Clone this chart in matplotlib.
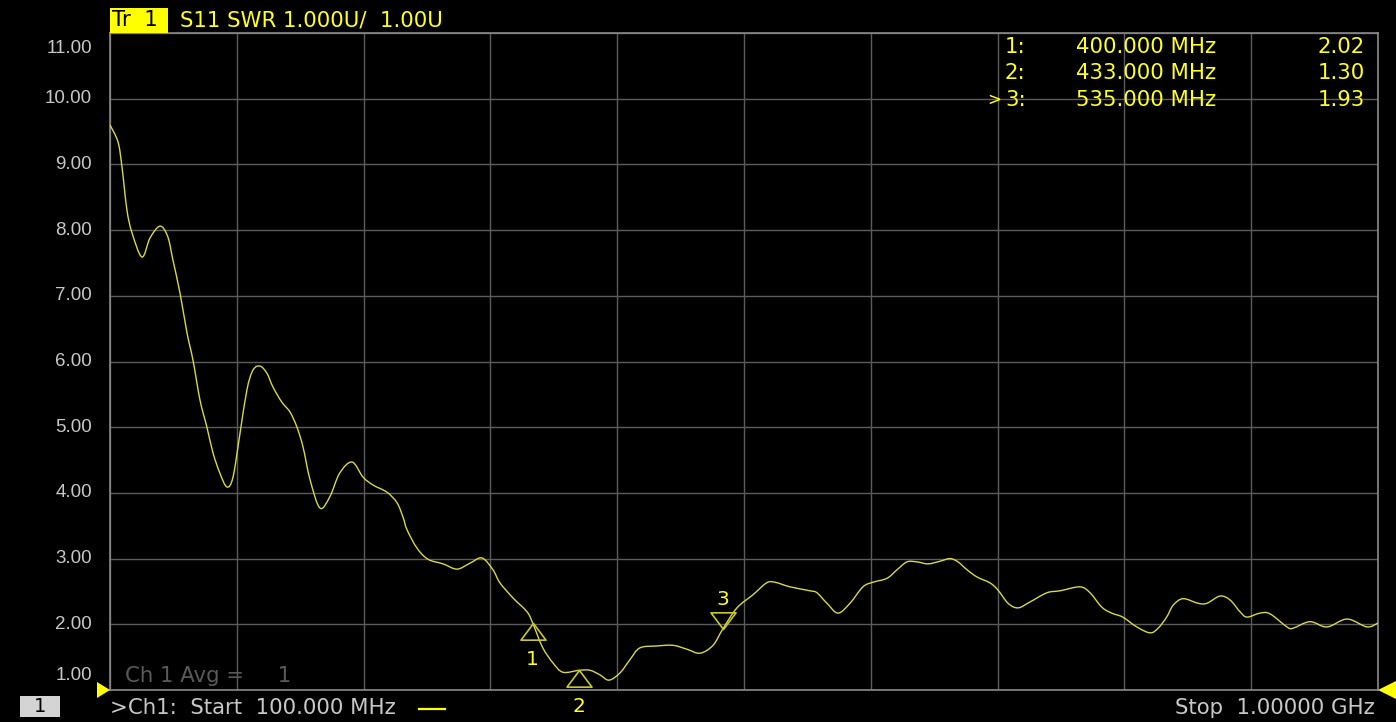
import matplotlib
matplotlib.use("Agg")
import matplotlib.pyplot as plt
from matplotlib.patches import Rectangle, Polygon, PathPatch
from matplotlib.path import Path
import matplotlib.transforms as mtransforms
import numpy as np

# ---------------- data ----------------
freq_mhz = [100, 105.7, 108.5, 112, 115.6, 122.7, 128.4, 135.5, 141, 144.7, 149.7,
            154.7, 158.9, 163.9, 168.8, 173.1, 178, 183, 187.3, 192.3, 197.2, 201.5,
            206.5, 211.4, 215.7, 222, 227.8, 232.7, 237, 242, 249, 256, 263, 271.8,
            279.6, 286.7, 296.6, 303.7, 308, 310.8, 317.9, 325.7, 336.4, 346.3, 355.5,
            364, 371.8, 376.8, 386.1, 396, 400, 407, 414.5, 421.5, 433, 440.7, 447.8,
            454.2, 462, 469, 476, 488, 499.6, 509.6, 518.8, 528, 535, 545, 556.4, 566,
            572, 582.7, 596.9, 601.8, 608.9, 616.7, 625.2, 634.4, 641.5, 651.5, 658.6,
            665.7, 672.8, 680.6, 689.2, 696.2, 701.9, 708.3, 715.4, 724.6, 730.3, 737.4,
            744.5, 753, 765, 774.3, 788.5, 795.6, 804, 811, 818.8, 828.8, 838.2, 843.9,
            850, 854.6, 861.6, 872.3, 878.6, 887.9, 895, 902.1, 907, 916.2, 923.3,
            935.4, 939.6, 951.7, 963.8, 978, 992.2, 1000]
swr = [9.60, 9.34, 8.96, 8.31, 7.96, 7.59, 7.88, 8.06, 7.90, 7.54, 7.04,
       6.43, 6.02, 5.41, 5.00, 4.61, 4.30, 4.09, 4.24, 4.91, 5.57, 5.87,
       5.93, 5.82, 5.61, 5.38, 5.23, 5.00, 4.70, 4.20, 3.77, 3.94, 4.30, 4.47,
       4.24, 4.12, 4.01, 3.85, 3.63, 3.44, 3.16, 2.99, 2.92, 2.84, 2.93,
       3.01, 2.83, 2.63, 2.40, 2.19, 2.02, 1.65, 1.41, 1.27, 1.30, 1.30, 1.23,
       1.15, 1.26, 1.46, 1.64, 1.67, 1.68, 1.62, 1.56, 1.68, 1.93, 2.25, 2.45, 2.63,
       2.64, 2.57, 2.51, 2.48, 2.32, 2.17, 2.32, 2.57, 2.64, 2.70, 2.83,
       2.95, 2.95, 2.92, 2.96, 3.00, 2.95, 2.83, 2.72, 2.63, 2.52, 2.32,
       2.25, 2.34, 2.48, 2.51, 2.57, 2.48, 2.26, 2.17, 2.11, 1.96, 1.87, 1.94,
       2.11, 2.29, 2.39, 2.32, 2.32, 2.43, 2.37, 2.19, 2.11, 2.17, 2.16,
       1.96, 1.94, 2.04, 1.96, 2.08, 1.96, 2.02]

marker_ids = ["1", "2", "3"]
marker_freq = [400.0, 433.0, 535.0]
marker_swr = [2.02, 1.30, 1.93]

y_ticks = [1, 2, 3, 4, 5, 6, 7, 8, 9, 10, 11]
y_labels = ["1.00", "2.00", "3.00", "4.00", "5.00", "6.00", "7.00", "8.00", "9.00", "10.00", "11.00"]
x_ticks = [100, 190, 280, 370, 460, 550, 640, 730, 820, 910, 1000]

# ---------------- figure ----------------
W, H = 1396, 722
plt.rcParams['font.family'] = ['Liberation Sans', 'DejaVu Sans']
fig = plt.figure(figsize=(W / 100, H / 100), dpi=100, facecolor='black')

L, R, T, B = 110, 1378, 33, 690
ax = fig.add_axes([L / W, 1 - B / H, (R - L) / W, (B - T) / H], facecolor='black')
ax.set_xlim(100, 1000)
ax.set_ylim(1, 11)
ax.set_xticks(x_ticks)
ax.set_yticks(y_ticks)
ax.tick_params(length=0, labelleft=False, labelbottom=False)
ax.grid(True, color='#5c5c5c', linewidth=1.0)
for s in ax.spines.values():
    s.set_color('#8a8a8a')
    s.set_linewidth(1.2)

def fx(x):
    return x / W

def fy(y):
    return 1 - y / H

TRACE = '#d8d848'
YEL = '#ffff20'
GRAY = '#c8c8c8'
WIDE = ['DejaVu Sans']
WS = 15.3

# smooth trace: cubic Bezier segments (Catmull-Rom) through the measured points
P = np.column_stack([freq_mhz, swr])
n = len(P)
verts = [tuple(P[0])]
codes = [Path.MOVETO]
for i in range(n - 1):
    p0 = P[i - 1] if i > 0 else P[i]
    p1 = P[i]
    p2 = P[i + 1]
    p3 = P[i + 2] if i + 2 < n else P[i + 1]
    c1 = p1 + (p2 - p0) / 6.0
    c2 = p2 - (p3 - p1) / 6.0
    verts += [tuple(c1), tuple(c2), tuple(p2)]
    codes += [Path.CURVE4, Path.CURVE4, Path.CURVE4]
ax.add_patch(PathPatch(Path(verts, codes), facecolor='none', edgecolor=TRACE,
                       linewidth=1.0, zorder=3))

# y labels
blend = mtransforms.blended_transform_factory(ax.transAxes, ax.transData)
for v, lab in zip(y_ticks, y_labels):
    if v == 11:
        dy, va = -5, 'top'
    elif v == 1:
        dy, va = 4, 'bottom'
    else:
        dy, va = 0, 'center'
    ax.annotate(lab, xy=(0, v), xycoords=blend, xytext=(-13, dy),
                textcoords='offset points', ha='right', va=va,
                color=GRAY, fontsize=13.5, annotation_clip=False)

# markers
up_tri = Path([(0, 0), (-0.75, -1), (0.75, -1), (0, 0)],
              [Path.MOVETO, Path.LINETO, Path.LINETO, Path.CLOSEPOLY])
down_tri = Path([(0, 0), (-0.75, 1), (0.75, 1), (0, 0)],
                [Path.MOVETO, Path.LINETO, Path.LINETO, Path.CLOSEPOLY])
for i, (mid, mf, mv) in enumerate(zip(marker_ids, marker_freq, marker_swr)):
    active = (i == len(marker_ids) - 1)
    ax.plot([mf], [mv], marker=down_tri if active else up_tri, markersize=24,
            markerfacecolor='none', markeredgecolor='#c8c828', markeredgewidth=1.2,
            linestyle='none', zorder=4, clip_on=False)
    if active:
        ax.annotate(mid, xy=(mf, mv), xytext=(0, 14), textcoords='offset points',
                    ha='center', va='bottom', color=YEL, fontsize=14.5, family=WIDE,
                    annotation_clip=False)
    else:
        ax.annotate(mid, xy=(mf, mv), xytext=(0, -19.5), textcoords='offset points',
                    ha='center', va='top', color=YEL, fontsize=14.5, family=WIDE,
                    annotation_clip=False)

# marker table
rows_y = [47, 73, 100]
for i, (mid, mf, mv) in enumerate(zip(marker_ids, marker_freq, marker_swr)):
    y = rows_y[i]
    fig.text(fx(1005), fy(y), f"{mid}:", color=YEL, fontsize=WS, family=WIDE, ha='left', va='center')
    fig.text(fx(1216), fy(y), f"{mf:.3f} MHz", color=YEL, fontsize=WS, family=WIDE, ha='right', va='center')
    fig.text(fx(1365), fy(y), f"{mv:.2f}", color=YEL, fontsize=WS, family=WIDE, ha='right', va='center')
    if i == len(marker_ids) - 1:
        fig.text(fx(987), fy(y), ">", color=YEL, fontsize=12, family=WIDE, ha='left', va='center')

# header
fig.patches.append(Rectangle((fx(110), fy(33)), (168 - 110) / W, 25 / H,
                             transform=fig.transFigure, facecolor='#ffff00',
                             edgecolor='none', zorder=5))
fig.text(fx(112), fy(20), "Tr  1", color='black', fontsize=WS, family=WIDE,
         ha='left', va='center', zorder=6)
fig.text(fx(180), fy(20), "S11 SWR 1.000U/  1.00U", color=YEL, fontsize=WS, family=WIDE,
         ha='left', va='center', zorder=6)

# reference level triangles
fig.patches.append(Polygon([(fx(97), fy(682)), (fx(97), fy(698)), (fx(110), fy(690))],
                           closed=True, transform=fig.transFigure,
                           facecolor='#ffff00', edgecolor='none', zorder=5))
fig.patches.append(Polygon([(fx(1396), fy(681)), (fx(1396), fy(699)), (fx(1378), fy(690))],
                           closed=True, transform=fig.transFigure,
                           facecolor='#ffff00', edgecolor='none', zorder=5))

# bottom bar
fig.patches.append(Rectangle((fx(20), fy(717)), 40 / W, 21 / H,
                             transform=fig.transFigure, facecolor='#d4d4d4',
                             edgecolor='none', zorder=5))
fig.text(fx(40), fy(706), "1", color='black', fontsize=14, family=WIDE,
         ha='center', va='center', zorder=6)
fig.text(fx(110), fy(708), ">Ch1:  Start  100.000 MHz", color=GRAY, fontsize=WS, family=WIDE,
         ha='left', va='center')
fig.lines.append(plt.Line2D([fx(419), fx(445)], [fy(709), fy(709)],
                            transform=fig.transFigure, color='#ffff00', linewidth=1.6))
fig.text(fx(1375), fy(708), "Stop  1.00000 GHz", color=GRAY, fontsize=WS, family=WIDE,
         ha='right', va='center')
ax.annotate("Ch 1 Avg =     1", xy=(0, 1), xycoords=blend, xytext=(11, 3),
            textcoords='offset points', ha='left', va='bottom',
            color='#5a5a5a', fontsize=WS, family=WIDE)

fig.savefig("out.png", dpi=100, facecolor='black')
